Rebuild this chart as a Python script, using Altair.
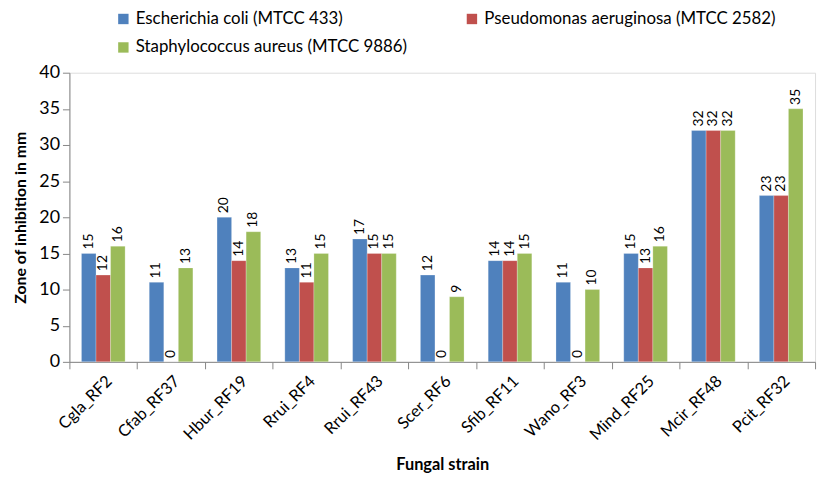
import altair as alt
import pandas as pd

strains = ["Cgla_RF2", "Cfab_RF37", "Hbur_RF19", "Rrui_RF4", "Rrui_RF43", "Scer_RF6",
           "Sfib_RF11", "Wano_RF3", "Mind_RF25", "Mcir_RF48", "Pcit_RF32"]
series = ["Escherichia coli (MTCC 433)", "Pseudomonas aeruginosa (MTCC 2582)",
          "Staphylococcus aureus (MTCC 9886)"]
ecoli = [15, 11, 20, 13, 17, 12, 14, 11, 15, 32, 23]
pseudo = [12, 0, 14, 11, 15, 0, 14, 0, 13, 32, 23]
staph = [16, 13, 18, 15, 15, 9, 15, 10, 16, 32, 35]
colors = ["#4F81BD", "#C0504D", "#9BBB59"]
yticks = [0, 5, 10, 15, 20, 25, 30, 35, 40]

rows = []
for s, vals in zip(series, [ecoli, pseudo, staph]):
    for st, v in zip(strains, vals):
        rows.append({"strain": st, "series": s, "value": v})
df = pd.DataFrame(rows)

FONT = "Lato"

x = alt.X("strain:N", sort=strains, title="Fungal strain",
          scale=alt.Scale(paddingInner=0, paddingOuter=0),
          axis=alt.Axis(labelAngle=-45, labelFontSize=16.5, labelColor="#000000",
                        labelFont=FONT, titleFont=FONT, titleFontSize=16.5,
                        titleFontWeight="bold", titleColor="#000000",
                        tickBand="extent", tickSize=7, tickColor="#868686",
                        domainColor="#868686", labelPadding=4, titlePadding=14))
xo = alt.XOffset("series:N", sort=series,
                 scale=alt.Scale(paddingOuter=0.83, paddingInner=0))
y = alt.Y("value:Q", title="Zone of inhibition in mm",
          scale=alt.Scale(domain=[0, 40]),
          axis=alt.Axis(values=yticks, grid=False, labelFontSize=18,
                        labelColor="#000000", labelFont=FONT, titleFont=FONT,
                        titleFontSize=16, titleFontWeight="bold", titleColor="#000000",
                        tickSize=7, tickColor="#868686", domainColor="#868686",
                        labelPadding=3, titlePadding=10, labelOverlap=False))

color = alt.Color("series:N", sort=series,
                  scale=alt.Scale(domain=series, range=colors),
                  legend=alt.Legend(title=None, orient="none", legendX=46, legendY=-63,
                                    direction="horizontal",
                                    columns=2, columnPadding=56, rowPadding=11,
                                    symbolType="square", symbolSize=110,
                                    symbolStrokeWidth=0, labelFontSize=17,
                                    labelFont=FONT, labelColor="#000000",
                                    labelLimit=500, symbolOffset=0, labelOffset=4))

bars = alt.Chart(df).mark_bar(stroke="#ffffff", strokeWidth=0.4, strokeOpacity=0.6).encode(
    x=x, xOffset=xo, y=y, color=color)

labels = alt.Chart(df).mark_text(angle=270, align="left", baseline="middle", dx=4,
                                 fontSize=14, font=FONT, color="#000000").encode(
    x=x, xOffset=xo, y=y, text="value:Q")

chart = alt.layer(bars, labels).properties(
    width=753, height=292,
    autosize=alt.AutoSizeParams(type="none"),
    padding={"left": 62, "top": 63, "right": 6, "bottom": 120},
).configure_view(stroke=None).configure(background="#ffffff")

chart.save("out.html", embed_options={"renderer": "svg", "actions": False})
